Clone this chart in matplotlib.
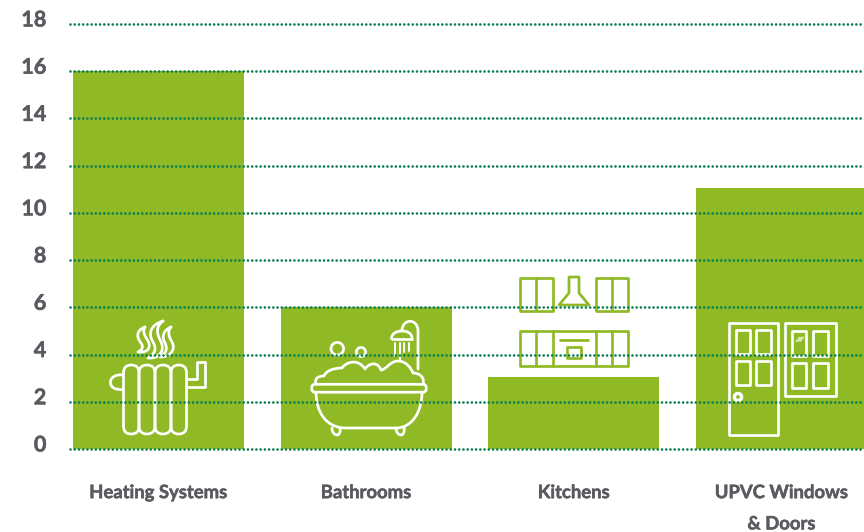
#!/usr/bin/env python3
import matplotlib
matplotlib.use('Agg')
import matplotlib.pyplot as plt
import matplotlib.patheffects as pe
from matplotlib.patches import Circle, FancyBboxPatch, PathPatch, Rectangle
from matplotlib.path import Path
from matplotlib.transforms import Affine2D, ScaledTranslation

# Chart data
categories = ['Heating Systems', 'Bathrooms', 'Kitchens', 'UPVC Windows\n& Doors']
values = [16, 6, 3.05, 11.04]
y_ticks = [0, 2, 4, 6, 8, 10, 12, 14, 16, 18]

BAR_GREEN = '#8fba26'
DOT_GREEN = '#0b7f50'
TEXT_GREY = '#5a5a60'
WHITE = '#ffffff'
ICON_LW = 1.95

W, H = 864, 532
plt.rcParams['font.family'] = ['Lato', 'DejaVu Sans']

fig = plt.figure(figsize=(W / 100, H / 100), dpi=100)
ax = fig.add_axes([70 / W, 1 - 449 / H, (W - 70) / W, 425 / H])

ax.bar(range(len(values)), values, width=0.823, color=BAR_GREEN, zorder=1)
ax.set_xlim(-0.426, 3.397)
ax.set_ylim(0, 18)
ax.set_yticks(y_ticks)
ax.set_xticks(range(len(categories)))
ax.set_xticklabels(categories, fontsize=13.3, fontweight='bold', color=TEXT_GREY, linespacing=2.02)
ax.tick_params(axis='x', length=0, pad=25.3)
ax.tick_params(axis='y', length=0, pad=17, labelsize=15.6, labelcolor=TEXT_GREY)
heavier = [pe.withStroke(linewidth=0.35, foreground=TEXT_GREY)]
for label in ax.get_xticklabels():
    label.set_path_effects(heavier)
for label in ax.get_yticklabels():
    label.set_fontweight('bold')
    label.set_path_effects(heavier)
    # the numbers sit a little above their gridlines
    label.set_transform(label.get_transform() + ScaledTranslation(0, 6 / 100, fig.dpi_scale_trans))
for spine in ax.spines.values():
    spine.set_visible(False)

ax.set_axisbelow(False)
ax.grid(axis='y', color=DOT_GREEN, linewidth=1.95, linestyle=(0, (0.01, 1.55)))
ax.grid(axis='x', visible=False)
for gl in ax.get_ygridlines():
    gl.set_clip_on(False)
    gl.set_dash_capstyle('round')

# Icons are drawn in pixel coordinates measured from the top left corner
px = Affine2D().scale(1, -1).translate(0, H)


def add(patch):
    patch.set_transform(px)
    patch.set_clip_on(False)
    patch.set_zorder(2.2)
    ax.add_artist(patch)


def line(points, color=WHITE, lw=ICON_LW, closed=False):
    codes = [Path.MOVETO] + [Path.LINETO] * (len(points) - 1)
    if closed:
        points = list(points) + [points[0]]
        codes.append(Path.CLOSEPOLY)
    add(PathPatch(Path(points, codes), fill=False, edgecolor=color, lw=lw, joinstyle='round', capstyle='round'))


def curve(start, segs, color=WHITE, lw=ICON_LW):
    # segs are (c1, c2, end) cubic segments
    verts = [start]
    codes = [Path.MOVETO]
    for c1, c2, end in segs:
        verts += [c1, c2, end]
        codes += [Path.CURVE4] * 3
    add(PathPatch(Path(verts, codes), fill=False, edgecolor=color, lw=lw, joinstyle='round', capstyle='round'))


def box(x0, y0, x1, y1, color=WHITE, lw=ICON_LW):
    add(Rectangle((x0, y0), x1 - x0, y1 - y0, fill=False, edgecolor=color, lw=lw, joinstyle='round'))


def stadium(x0, y0, x1, y1):
    r = (x1 - x0) / 2
    add(FancyBboxPatch((x0 + r, y0 + r), 0.01, y1 - y0 - 2 * r, boxstyle='round,pad=%f,rounding_size=%f' % (r, r),
                       fill=False, edgecolor=WHITE, lw=ICON_LW))


# radiator
for x0, x1 in [(123.5, 139), (139, 155), (155, 171), (171, 186.5)]:
    stadium(x0, 365, x1, 434)
curve((123, 375), [((115, 374), (110, 378), (110.5, 383)), ((111, 388), (116, 390), (123, 389.5))])
line([(187, 379), (197, 379), (197, 362), (205, 362), (205, 387), (187, 387)])
# steam
curve((145, 327), [((135, 331), (137, 338), (141, 343)), ((144, 347), (142, 350), (138, 352)),
                   ((149, 353), (151, 347), (148, 341)), ((145, 336), (142, 332), (145, 327))])
curve((163, 321), [((150, 325), (148, 334), (153, 342)), ((157, 349), (155, 354), (148, 358)),
                   ((160, 359), (165, 350), (161, 342)), ((157, 334), (155, 327), (163, 321))])
curve((171, 327), [((162, 331), (162, 338), (165, 343)), ((168, 349), (166, 353), (160, 357)),
                   ((171, 357), (176, 349), (172, 342)), ((169, 337), (167, 332), (171, 327))])

# bathtub
add(FancyBboxPatch((314, 386.5), 110, 3.5, boxstyle='round,pad=2.2,rounding_size=3', fill=False,
                   edgecolor=WHITE, lw=ICON_LW))
curve((316, 392), [((316, 412), (326, 428), (346, 428)), ((370, 428), (375, 428), (396, 428)),
                   ((412, 428), (422, 412), (422, 392))])
curve((332, 428), [((332, 433), (335, 435), (337, 435)), ((339, 435), (341, 432), (340, 428))])
curve((396, 428), [((396, 433), (399, 435), (401, 435)), ((403, 435), (405, 432), (404, 428))])
curve((316, 384), [((314, 378), (319, 376), (324, 376)), ((326, 371), (333, 368), (342, 368)),
                   ((346, 362), (358, 358), (365, 369)), ((370, 362), (378, 362), (381, 370)),
                   ((386, 370), (390, 361), (398, 361)), ((406, 361), (411, 368), (413, 373)),
                   ((420, 373), (425, 378), (423, 384))])
add(Circle((337.3, 348.7), 6.3, fill=False, edgecolor=WHITE, lw=ICON_LW))
add(Circle((361, 352), 4.6, fill=False, edgecolor=WHITE, lw=ICON_LW))
# shower pipe and head
curve((418, 369), [((418, 360), (418, 345), (418, 331)), ((418, 318), (402, 318), (402, 331))])
curve((391.5, 338.5), [((392, 333), (397, 331), (402, 331)), ((407, 331), (412, 333), (412, 338.5))])
line([(391.5, 338.5), (412, 338.5)])
for x0, y1 in [(395, 356), (399.5, 360), (404, 352), (408.5, 351)]:
    line([(x0, 343), (x0, y1)], lw=1.4)

# kitchen cabinets and extractor hood
for x0, x1 in [(520, 552.5), (596, 628)]:
    box(x0, 277.5, x1, 311, color=BAR_GREEN)
    line([((x0 + x1) / 2, 277.5), ((x0 + x1) / 2, 311)], color=BAR_GREEN)
line([(569, 277), (579, 277), (579, 293), (589, 305), (559, 305), (569, 293)], color=BAR_GREEN, closed=True)
box(520, 331, 628, 365.5, color=BAR_GREEN)
for x0 in (536, 552.5, 595.5, 612):
    line([(x0, 331), (x0, 365.5)], color=BAR_GREEN)
line([(560, 339.5), (588, 339.5)], color=BAR_GREEN, lw=2)
box(567, 347, 581, 357.5, color=BAR_GREEN)

# door with four panels and a round handle
box(728.5, 323, 778, 435)
for x0 in (735.5, 756):
    for y0, y1 in [(329.5, 354), (360.5, 385)]:
        box(x0, y0, x0 + 14.5, y1)
add(Circle((738, 397), 3.6, fill=False, edgecolor=WHITE, lw=2.4))

# window
box(785, 323, 836, 396)
for x0 in (791.5, 813):
    for y0, y1 in [(331, 356), (362.5, 387.5)]:
        box(x0, y0, x0 + 14.5, y1)
for k in range(3):
    line([(796 + k * 2, 341.5), (800 + k * 2, 337)], lw=0.7)

fig.savefig('out.png', dpi=100)
